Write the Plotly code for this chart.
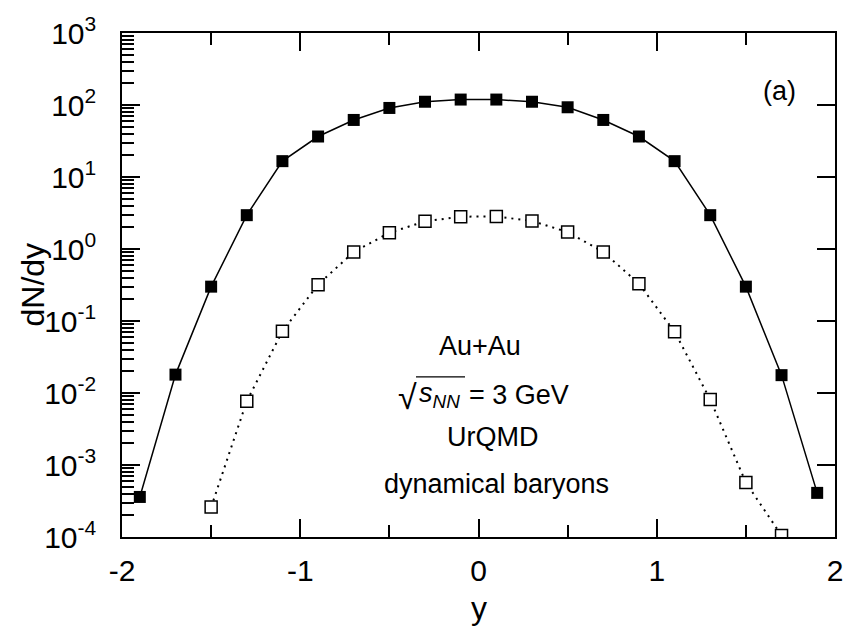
import plotly.graph_objects as go

# Rapidity distributions, Au+Au at sqrt(s_NN) = 3 GeV (UrQMD)
y_all = [-1.9, -1.7, -1.5, -1.3, -1.1, -0.9, -0.7, -0.5, -0.3, -0.1,
         0.1, 0.3, 0.5, 0.7, 0.9, 1.1, 1.3, 1.5, 1.7, 1.9]
dndy_all = [3.6e-4, 0.018, 0.30, 2.95, 16.6, 36.5, 62.0, 91.0, 111.0, 119.0,
            119.0, 111.0, 93.0, 62.0, 36.5, 16.6, 2.95, 0.30, 0.0177, 4.1e-4]

y_dyn = [-1.5, -1.3, -1.1, -0.9, -0.7, -0.5, -0.3, -0.1, 0.1,
         0.3, 0.5, 0.7, 0.9, 1.1, 1.3, 1.5, 1.7]
dndy_dyn = [2.6e-4, 0.0077, 0.072, 0.32, 0.91, 1.68, 2.42, 2.81, 2.83,
            2.45, 1.72, 0.91, 0.33, 0.071, 0.0081, 5.7e-4, 1.05e-4]

x_tickvals = [-2, -1, 0, 1, 2]
x_ticktext = ["-2", "-1", "0", "1", "2"]
y_tickvals = [1e-4, 1e-3, 1e-2, 1e-1, 1e0, 1e1, 1e2, 1e3]
y_ticktext = ["10<sup>-4</sup>", "10<sup>-3</sup>", "10<sup>-2</sup>", "10<sup>-1</sup>",
              "10<sup>0</sup>", "10<sup>1</sup>", "10<sup>2</sup>", "10<sup>3</sup>"]

FONT = "Liberation Sans, Arial, sans-serif"
TICK_FS = 30
TITLE_FS = 32
NOTE_FS = 27

W, H = 859, 627
L, R, T, B = 122, 24, 24, 90
PW, PH = W - L - R, H - T - B


def px(xp):
    """horizontal pixel -> paper fraction"""
    return (xp - L) / PW


def py(yp):
    """vertical pixel (from top) -> paper fraction"""
    return (H - B - yp) / PH


fig = go.Figure()
fig.add_trace(go.Scatter(
    x=y_all, y=dndy_all, mode="lines+markers",
    line=dict(color="black", width=1.5),
    marker=dict(symbol="square", size=12, color="black"),
    showlegend=False,
))
fig.add_trace(go.Scatter(
    x=y_dyn, y=dndy_dyn, mode="lines+markers",
    line=dict(color="black", width=2, dash="2px,5px"),
    marker=dict(symbol="square", size=12, color="white",
                line=dict(width=1.5, color="black")),
    showlegend=False,
))
# right-hand axis carrying only the decade ticks
fig.add_trace(go.Scatter(x=[None], y=[None], yaxis="y2", showlegend=False))

yr = [-4, 3]
fig.update_layout(
    width=W, height=H,
    margin=dict(l=L, r=R, t=T, b=B),
    plot_bgcolor="white", paper_bgcolor="white",
    font=dict(family=FONT, size=TICK_FS, color="black"),
    xaxis=dict(
        range=[-2, 2], tickvals=x_tickvals, ticktext=x_ticktext,
        ticks="inside", ticklen=18, tickwidth=1.5, tickcolor="black",
        minor=dict(ticks="inside", ticklen=12, tickwidth=1.5, tickcolor="black", dtick=0.5),
        showline=True, linecolor="black", linewidth=1.5, mirror="ticks",
        showgrid=False, zeroline=False, ticklabelstandoff=6,
        tickfont=dict(size=TICK_FS),
    ),
    yaxis=dict(
        type="log", range=yr, tickvals=y_tickvals, ticktext=y_ticktext,
        ticks="inside", ticklen=18, tickwidth=1.5, tickcolor="black",
        minor=dict(ticks="inside", ticklen=12, tickwidth=1.5, tickcolor="black", dtick="D1"),
        showline=True, linecolor="black", linewidth=1.5, mirror=False,
        showgrid=False, zeroline=False, ticklabelstandoff=18,
        tickfont=dict(size=TICK_FS),
    ),
    yaxis2=dict(
        type="log", range=yr, overlaying="y", side="right",
        tickvals=y_tickvals, showticklabels=False,
        ticks="inside", ticklen=18, tickwidth=1.5, tickcolor="black",
        showline=True, linecolor="black", linewidth=1.5,
        showgrid=False, zeroline=False,
    ),
)


def label(text, xp, yp, size=NOTE_FS, xanchor="center", angle=0):
    fig.add_annotation(text=text, x=px(xp), y=py(yp), xref="paper", yref="paper",
                       showarrow=False, xanchor=xanchor, yanchor="middle",
                       textangle=angle,
                       font=dict(family=FONT, size=size, color="black"))


# axis titles
label("y", 479, 609, size=TITLE_FS)
label("dN/dy", 33, 280, size=TITLE_FS, angle=-90)

# panel text
label("Au+Au", 480, 343)
label("\u221a", 419, 394, size=34, xanchor="right")
label("<i>s</i><sub><i>NN</i></sub>", 417, 392, xanchor="left")
label("= 3 GeV", 467, 392, xanchor="left")
label("UrQMD", 492, 435)
label("dynamical baryons", 496, 483)
label("(a)", 779, 83)

# overbar of the square root
fig.add_shape(type="line", xref="paper", yref="paper",
              x0=px(416), x1=px(465), y0=py(374), y1=py(374),
              line=dict(color="black", width=1.3))

fig.write_html("out.html")
